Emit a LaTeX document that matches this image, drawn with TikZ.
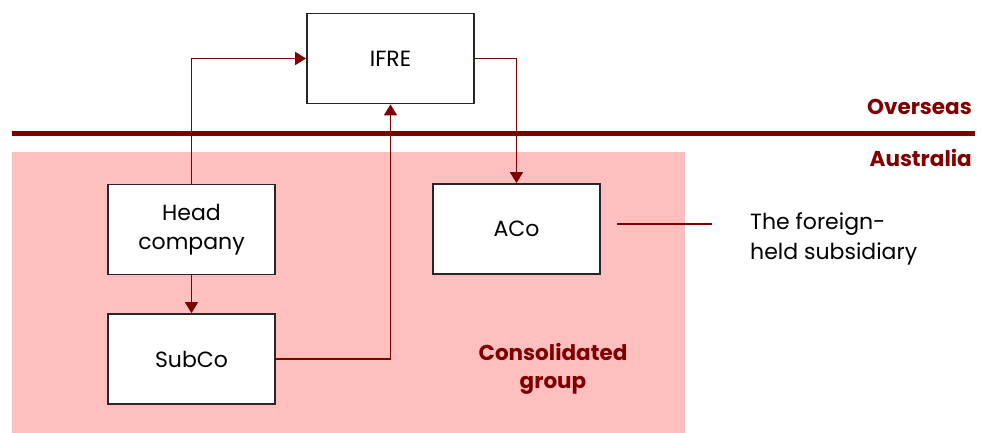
\documentclass[tikz,border=0pt]{standalone}
\usepackage{fontspec}
\setmainfont{Poppins}
\usetikzlibrary{arrows.meta}
\definecolor{dred}{HTML}{800000}
\definecolor{pinkbg}{HTML}{FFBFBF}
\begin{document}
\begin{tikzpicture}[x=1pt,y=-1pt,
  box/.style={draw=black!85,line width=1.8pt,fill=white,minimum width=167pt,minimum height=90pt,inner sep=0pt,align=center,font=\fontsize{22}{29}\selectfont},
  conn/.style={draw=dred,line width=1.8pt,-{Triangle[length=11pt,width=13pt]}},
  lbl/.style={text=dred,font=\fontsize{21.5}{28}\selectfont\bfseries,align=center,inner sep=0pt},
  txt/.style={font=\fontsize{22}{30}\selectfont,align=left,inner sep=0pt}]
\useasboundingbox (0,0) rectangle (982,433);
\fill[pinkbg] (12,152) rectangle (685,433);
\draw[dred,line width=4.5pt] (12,133.5) -- (975,133.5);
\node[lbl,anchor=south east] (ovs) at (972,115) {Overseas};
\node[lbl,anchor=north east] (aus) at (972,149) {Australia};
\node[box] (ifre) at (390.5,58.5) {IFRE};
\node[box] (head) at (191.5,229.5) {Head\\company};
\node[box] (subco) at (191.5,359) {SubCo};
\node[box] (aco) at (516.5,229) {ACo};
\node[lbl] (cons) at (553,369) {Consolidated\\group};
\node[txt,anchor=west] (sub) at (750,239) {The foreign-\\held subsidiary};
\coordinate (l1) at (617,224);
\coordinate (l2) at (712,224);
\draw[dred,line width=1.8pt] (l1) -- (l2);
\draw[conn] (head.north) |- (ifre.west);
\draw[conn] (head.south) -- (subco.north);
\draw[conn] (subco.east) -| (ifre.south);
\draw[conn] (ifre.east) -| (aco.north);
\end{tikzpicture}
\end{document}
